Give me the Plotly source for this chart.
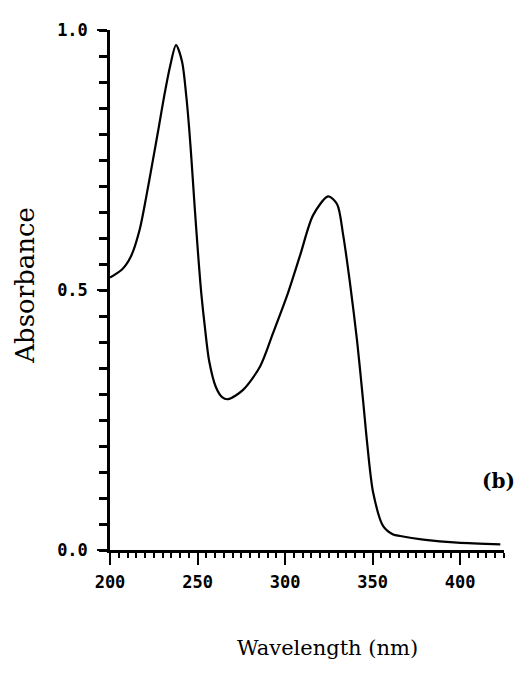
import plotly.graph_objects as go

# UV absorption spectrum
wavelength_nm = [200.0, 207.0, 212.0, 217.0, 220.8, 224.3, 227.7, 231.0, 234.3, 237.7,
                 241.1, 243.5, 245.2, 246.6, 247.9, 249.2, 250.6, 252.2, 254.2, 256.6,
                 260.5, 264.0, 267.4, 276.0, 285.7, 293.1, 301.1, 308.6, 316.0, 324.6,
                 329.7, 333.1, 337.1, 341.1, 344.6, 346.9, 350.3, 356.0, 361.7, 365.7,
                 378.9, 398.3, 422.9]
absorbance = [0.524, 0.540, 0.565, 0.617, 0.681, 0.746, 0.810, 0.874, 0.930, 0.971,
              0.940, 0.875, 0.811, 0.747, 0.682, 0.620, 0.556, 0.491, 0.428, 0.364,
              0.313, 0.294, 0.290, 0.308, 0.353, 0.417, 0.489, 0.567, 0.644, 0.680,
              0.665, 0.607, 0.512, 0.402, 0.285, 0.204, 0.110, 0.046, 0.030, 0.027,
              0.020, 0.014, 0.011]

x_ticks = [200, 250, 300, 350, 400]
x_tick_labels = ["200", "250", "300", "350", "400"]
y_ticks = [0.0, 0.5, 1.0]
y_tick_labels = ["0.0", "0.5", "1.0"]
y_minor_step = 0.05

x_title = "Wavelength (nm)"
y_title = "Absorbance"
panel_label = "(b)"

fig = go.Figure()
fig.add_trace(go.Scatter(
    x=wavelength_nm, y=absorbance, mode="lines",
    line=dict(color="black", width=2.2, shape="spline", smoothing=0.8),
    showlegend=False, hoverinfo="skip",
))

tick_font = dict(family="DejaVu Sans Mono", size=17, color="black", weight="bold")

fig.update_layout(
    width=516, height=677,
    margin=dict(l=110, r=12, t=30, b=127),
    paper_bgcolor="white", plot_bgcolor="white",
    xaxis=dict(
        range=[200, 425], tickmode="array", tickvals=x_ticks, ticktext=x_tick_labels,
        showline=True, linecolor="black", linewidth=2.5,
        ticks="outside", ticklen=12, tickwidth=2, tickcolor="black",
        ticklabelstandoff=3,
        minor=dict(dtick=5, tick0=200, ticks="outside", ticklen=5, tickwidth=1.5, tickcolor="black"),
        showgrid=False, zeroline=False, tickfont=tick_font,
    ),
    yaxis=dict(
        range=[0, 1.0], tickmode="array", tickvals=y_ticks, ticktext=y_tick_labels,
        showline=True, linecolor="black", linewidth=2.5,
        ticks="outside", ticklen=10, tickwidth=2, tickcolor="black",
        ticklabelstandoff=6,
        minor=dict(tickmode="linear", tick0=0, dtick=y_minor_step, ticks="outside",
                   ticklen=8, tickwidth=2.5, tickcolor="black"),
        showgrid=False, zeroline=False, tickfont=tick_font,
    ),
    annotations=[
        dict(text=y_title, xref="paper", yref="paper", x=-0.216, y=0.51,
             showarrow=False, textangle=-90, xanchor="center", yanchor="middle",
             font=dict(family="DejaVu Serif", size=26, color="black")),
        dict(text=x_title, xref="paper", yref="paper", x=0.553, y=-0.188,
             showarrow=False, xanchor="center", yanchor="middle",
             font=dict(family="DejaVu Serif", size=21, color="black")),
        dict(text=panel_label, xref="paper", yref="paper", x=0.987, y=0.133,
             showarrow=False, xanchor="center", yanchor="middle",
             font=dict(family="DejaVu Serif", size=20, color="black", weight="bold")),
    ],
)

fig.write_html("out.html")
